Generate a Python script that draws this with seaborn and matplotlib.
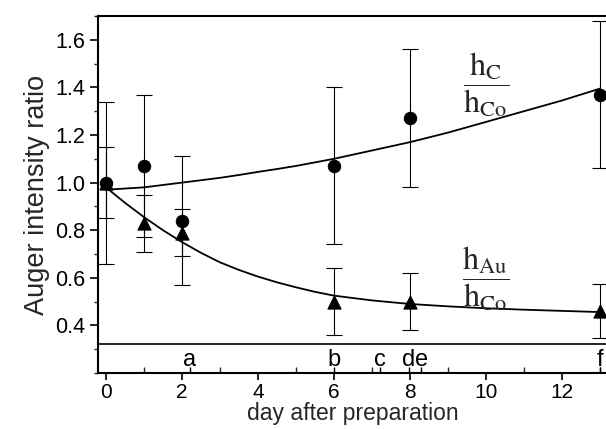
import numpy as np
import pandas as pd
import seaborn as sns
import matplotlib
matplotlib.use("Agg")
import matplotlib.pyplot as plt
from matplotlib.ticker import MultipleLocator, FixedLocator

# ---- data ----
days = [0, 1, 2, 6, 8, 13]
c_ratio = [1.00, 1.07, 0.84, 1.07, 1.27, 1.37]
c_err = [0.34, 0.30, 0.27, 0.33, 0.29, 0.31]
au_ratio = [1.00, 0.83, 0.79, 0.50, 0.50, 0.46]
au_err = [0.15, 0.12, 0.10, 0.14, 0.12, 0.115]

fit_days = [0, 0.5, 1, 1.5, 2, 2.5, 3, 3.5, 4, 4.5, 5, 5.5, 6, 7, 8, 9, 10, 11, 12, 13]
c_fit = [0.97, 0.975, 0.98, 0.99, 1.00, 1.01, 1.02, 1.032, 1.045, 1.057, 1.07,
         1.085, 1.10, 1.135, 1.17, 1.21, 1.255, 1.30, 1.345, 1.395]
au_fit = [0.98, 0.915, 0.855, 0.80, 0.75, 0.705, 0.665, 0.633, 0.605, 0.581,
          0.56, 0.541, 0.525, 0.505, 0.49, 0.48, 0.472, 0.466, 0.461, 0.456]

event_days = [2.2, 6, 7.2, 7.97, 8.3, 13]
event_labels = ["a", "b", "c", "d", "e", "f"]

x_ticks = [0, 2, 4, 6, 8, 10, 12]
y_ticks = [0.4, 0.6, 0.8, 1.0, 1.2, 1.4, 1.6]

sns.set_theme(style="ticks")
plt.rcParams["font.family"] = ["Liberation Sans", "DejaVu Sans"]
plt.rcParams["mathtext.fontset"] = "stix"

fig = plt.figure(figsize=(6.06, 4.29), dpi=100)
ax = fig.add_axes([98 / 606, 1 - 373 / 429, (608 - 98) / 606, (373 - 16) / 429])

df_c = pd.DataFrame({"day": days, "ratio": c_ratio})
df_au = pd.DataFrame({"day": days, "ratio": au_ratio})

ax.errorbar(days, c_ratio, yerr=c_err, fmt="none", ecolor="black",
            elinewidth=0.8, capsize=6, capthick=0.8, zorder=2)
ax.errorbar(days, au_ratio, yerr=au_err, fmt="none", ecolor="black",
            elinewidth=0.8, capsize=6, capthick=0.8, zorder=2)

sns.lineplot(x=fit_days, y=c_fit, color="black", linewidth=1.3, ax=ax, zorder=3)
sns.lineplot(x=fit_days, y=au_fit, color="black", linewidth=1.3, ax=ax, zorder=3)

sns.scatterplot(data=df_c, x="day", y="ratio", marker="o", s=80, color="black",
                edgecolor="black", ax=ax, zorder=4)
sns.scatterplot(data=df_au, x="day", y="ratio", marker="^", s=90, color="black",
                edgecolor="black", ax=ax, zorder=4)

ax.axhline(0.32, color="black", linewidth=1.2)

for d, lab in zip(event_days, event_labels):
    ax.text(d, 0.228, lab, ha="center", va="baseline", fontsize=17, color="black")
ax.vlines(event_days, 0.2, 0.225, color="black", linewidth=1.0)

ax.text(10, 1.41, r"$\dfrac{\mathrm{h}_{\mathrm{C}}}{\mathrm{h}_{\mathrm{Co}}}$",
        ha="center", va="center", fontsize=23)
ax.text(10, 0.595, r"$\dfrac{\mathrm{h}_{\mathrm{Au}}}{\mathrm{h}_{\mathrm{Co}}}$",
        ha="center", va="center", fontsize=23)

ax.set_xlim(-0.21, 13.21)
ax.set_ylim(0.2, 1.7)
ax.xaxis.set_major_locator(FixedLocator(x_ticks))
ax.xaxis.set_minor_locator(MultipleLocator(1))
ax.yaxis.set_major_locator(FixedLocator(y_ticks))
ax.yaxis.set_minor_locator(MultipleLocator(0.1))
ax.set_xticklabels([str(v) for v in x_ticks])
ax.set_yticklabels([f"{v:.1f}" for v in y_ticks])

ax.tick_params(axis="both", which="major", direction="out", length=5, width=1.2,
               labelsize=15, colors="black", pad=2)
ax.tick_params(axis="y", which="major", labelsize=15.5, pad=3, length=6)
ax.tick_params(axis="x", which="minor", direction="in", length=4, width=1.0)
ax.tick_params(axis="y", which="minor", direction="out", length=3, width=1.0)

for s in ["left", "top", "bottom"]:
    ax.spines[s].set_visible(True)
    ax.spines[s].set_linewidth(1.5)
    ax.spines[s].set_color("black")
ax.spines["right"].set_visible(False)

ax.set_xlabel("day after preparation", fontsize=16.5, labelpad=0)
ax.set_ylabel("Auger intensity ratio", fontsize=19.5, labelpad=4)

fig.savefig("out.png", dpi=100, facecolor="white")
